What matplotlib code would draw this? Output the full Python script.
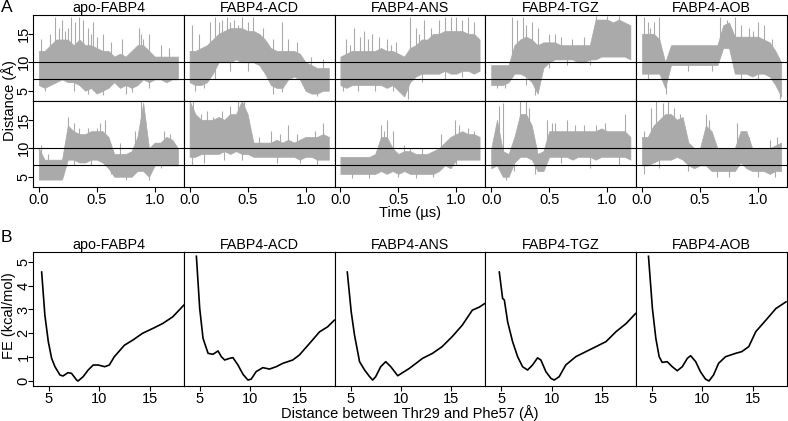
import numpy as np
import matplotlib
matplotlib.use('Agg')
import matplotlib.pyplot as plt

plt.rcParams['font.family'] = ['Liberation Sans', 'DejaVu Sans']
plt.rcParams['font.size'] = 10

SYSTEMS = ['apo-FABP4', 'FABP4-ACD', 'FABP4-ANS', 'FABP4-TGZ', 'FABP4-AOB']

# time grid of the distance traces (us)
TIME = [0.0, 0.05, 0.1, 0.15, 0.2, 0.25, 0.3, 0.35, 0.4, 0.45, 0.5, 0.55, 0.6,
        0.65, 0.7, 0.75, 0.8, 0.85, 0.9, 0.95, 1.0, 1.05, 1.1, 1.15, 1.2]

# panel A, replica 1: lower / upper envelope of the distance (A), spikes up and dips down
apo1_lo = [6, 5.5, 6, 6.5, 7, 6.5, 6.5, 6, 5, 5.5, 4.5, 5, 5.5, 6.5, 5.5, 6, 5.5, 6, 7, 6.5, 7, 7, 6.5, 7, 7]
apo1_hi = [12, 12, 13, 14, 14, 14, 13, 14, 13, 13, 12.5, 12, 12, 11, 11.5, 11, 12, 13, 13, 12, 11, 11, 11, 11, 11]
apo1_spk = [(0.02, 14), (0.1, 15), (0.14, 18), (0.17, 16), (0.2, 17.5), (0.23, 15.5), (0.25, 16), (0.28, 18),
            (0.31, 17), (0.35, 18), (0.38, 17.5), (0.42, 16), (0.45, 15), (0.47, 17), (0.5, 14.5), (0.55, 15),
            (0.62, 13.5), (0.72, 14), (0.86, 16), (0.88, 15), (0.9, 14), (0.95, 15), (1.05, 13), (1.12, 12.5)]
apo1_dip = [(0.05, 5), (0.3, 5), (0.42, 4.5), (0.55, 4.2), (0.75, 4.5), (0.8, 4.8), (0.95, 5.5)]

acd1_lo = [6.5, 6, 6, 6.5, 8, 10, 10, 10, 10.5, 10, 10, 10, 9.5, 8, 6, 5.5, 5.5, 7, 7.5, 7, 5, 4.5, 4.5, 5, 5]
acd1_hi = [12, 12, 12.5, 13, 14, 15, 15.5, 16, 16, 16, 15.5, 15.5, 15, 14, 12.5, 12, 12, 12, 12, 11.5, 10, 9.5, 9, 9, 9]
acd1_spk = [(0.02, 16.5), (0.08, 15), (0.18, 17), (0.22, 18), (0.25, 17), (0.28, 17.5), (0.32, 18), (0.35, 17),
            (0.38, 17.5), (0.42, 16.5), (0.45, 18), (0.5, 17), (0.55, 18), (0.63, 16), (0.72, 14), (0.8, 17),
            (0.85, 14), (0.93, 13.5), (1.05, 11), (1.15, 10.5)]
acd1_dip = [(0.05, 5), (0.12, 5.5), (0.22, 7), (0.35, 8.5), (0.5, 8.5), (0.72, 4.5), (0.8, 4.8), (1.1, 4)]

ans1_lo = [6, 5.5, 6, 6, 6, 6, 6, 6, 5.5, 6, 5, 4, 6.5, 7.5, 8, 8, 8, 8, 8.5, 8, 8, 8.5, 8.5, 8, 8.5]
ans1_hi = [11, 11.5, 12, 12, 12, 12, 12, 12.5, 12, 12, 11.5, 11, 12.5, 13, 14, 14, 15, 15, 15.5, 15.5, 15.5, 15.5, 15, 15, 14]
ans1_spk = [(0.05, 14), (0.08, 13), (0.12, 16), (0.17, 14.5), (0.2, 15.5), (0.24, 14), (0.27, 15), (0.33, 14.5),
            (0.4, 14), (0.44, 13), (0.48, 13.5), (0.6, 18), (0.65, 16), (0.68, 15), (0.72, 17.5), (0.78, 16),
            (0.85, 17.5), (0.9, 18), (0.95, 18), (1.0, 18), (1.05, 17.5), (1.1, 18), (1.15, 17)]
ans1_dip = [(0.02, 5), (0.15, 5), (0.3, 5), (0.45, 5), (0.58, 3.6), (0.7, 6.5), (0.9, 7), (1.05, 7.5)]

tgz1_lo = [6, 6, 6, 6.5, 8, 8, 7.5, 6.5, 4.5, 9, 10, 10.5, 10.5, 10.5, 10.5, 10, 10, 10.5, 10.5, 11, 11, 11, 11, 11, 10.5]
tgz1_hi = [9.5, 9.5, 9.5, 9.5, 13, 14, 14.5, 14, 13, 13.5, 13.5, 13.5, 13, 13, 13, 13, 13, 13, 17.5, 17.5, 17.5, 17, 17.5, 17, 16.5]
tgz1_spk = [(0.18, 18), (0.22, 17.5), (0.27, 18), (0.3, 16.5), (0.35, 17), (0.4, 16), (0.5, 15),
            (0.55, 15), (0.6, 14.5), (0.7, 14), (0.8, 14.5), (0.9, 18.2), (1.0, 18.2), (1.1, 18.2)]
tgz1_dip = [(0.05, 5.5), (0.12, 5.5), (0.3, 6), (0.38, 4.2), (0.5, 9), (0.65, 9.5), (0.85, 9.5)]

aob1_lo = [8, 8, 8, 8, 5.5, 9.5, 9.5, 9.5, 9.5, 9.5, 9.5, 9.5, 9.5, 9.5, 12.5, 12.5, 8, 8, 8, 7.5, 8, 8, 7.5, 6, 4]
aob1_hi = [15, 15, 15, 14, 10, 13, 13, 13, 13, 13, 13, 13, 13, 13, 16.5, 17, 14.5, 14.5, 14.5, 14.5, 14.5, 14, 13.5, 12, 10]
aob1_spk = [(0.02, 18), (0.05, 17), (0.07, 16), (0.1, 17), (0.15, 18), (0.67, 18), (0.73, 17.5), (0.8, 18),
            (0.85, 16.5), (0.92, 16), (0.96, 15.5), (1.0, 17), (1.05, 16.5), (1.12, 14)]
aob1_dip = [(0.05, 7), (0.21, 4.5), (0.4, 8.5), (0.6, 8.5), (0.85, 7), (1.0, 7), (1.19, 3.6)]

# panel A, replica 2
apo2_lo = [4.5, 4.5, 4.5, 4.5, 4.5, 8, 8, 7.5, 7.5, 8, 8, 7.5, 6.5, 5, 5, 5, 5, 6, 6, 5, 7, 7, 7, 7, 7]
apo2_hi = [10, 8, 8, 8, 8, 14, 13, 12.5, 12.5, 13, 13, 13, 12, 9, 9, 9, 9.5, 12, 18, 10, 11, 11, 12, 11.5, 10]
apo2_spk = [(0.02, 10.5), (0.08, 9), (0.25, 15.5), (0.3, 14.5), (0.35, 13.5), (0.42, 13.5), (0.5, 13.5),
            (0.53, 14.5), (0.57, 15), (0.7, 11), (0.83, 13), (0.88, 18.5), (1.08, 13), (1.13, 12.5)]
apo2_dip = [(0.3, 7), (0.45, 7), (0.62, 5.5), (0.75, 4.5), (0.95, 4.5), (1.05, 6.5)]

acd2_lo = [8.5, 8.5, 9, 9, 9, 9, 9.5, 9, 9.5, 9, 9, 8.5, 8.5, 8.5, 8.5, 8.5, 8.5, 8.5, 8.5, 8, 8.5, 8.5, 8, 8, 8]
acd2_hi = [18.3, 16, 15, 15, 15, 15.5, 15, 16, 16, 18.3, 16, 11, 11, 11, 11, 11.5, 11, 11.5, 11, 11.5, 12, 12, 12, 12.5, 12]
acd2_spk = [(0.03, 18.5), (0.1, 16), (0.15, 16.5), (0.2, 15.5), (0.28, 16.5), (0.35, 17.5), (0.42, 18.5),
            (0.47, 18.5), (0.6, 12), (0.7, 13), (0.78, 12.5), (0.85, 14), (0.93, 12.5), (1.08, 13), (1.15, 14.5)]
acd2_dip = [(0.02, 7), (0.12, 7.5), (0.3, 8), (0.45, 8), (0.75, 7.5), (0.95, 7.5), (1.1, 7)]

ans2_lo = [5.5, 5.5, 5.5, 5.5, 5.5, 5.5, 5.5, 6, 5.5, 6, 5.5, 6, 5.5, 5.5, 5.5, 5.5, 5.5, 6, 7, 6.5, 8, 8, 8, 8, 8]
ans2_hi = [8.5, 8.5, 8.5, 8.5, 8.5, 8.5, 9, 12, 12, 10, 9, 9.5, 9.5, 9, 9, 9, 9.5, 10, 11, 12, 12.5, 13, 12.5, 12.5, 12]
ans2_spk = [(0.35, 14), (0.38, 13), (0.4, 15), (0.45, 13), (0.55, 10.5), (0.6, 10), (0.7, 10), (0.87, 12.5),
            (0.95, 12), (0.99, 15), (1.02, 14), (1.1, 13.5), (1.15, 13)]
ans2_dip = [(0.1, 4.8), (0.25, 4.8), (0.5, 5), (0.65, 4.8), (0.8, 5), (1.0, 7)]

tgz2_lo = [6.5, 7, 5, 5, 7.5, 8.5, 8.5, 8, 6, 6, 8.5, 8.5, 8.5, 8.5, 8, 8.5, 8.5, 8.5, 8, 8.5, 8.5, 8.5, 8.5, 8.5, 8]
tgz2_hi = [10, 15, 9.5, 9, 12, 16, 16, 14, 9, 9.5, 13, 13, 13, 13, 13, 13, 13, 13, 13, 13.5, 13, 13, 13, 13, 12]
tgz2_spk = [(0.07, 17.5), (0.1, 18), (0.25, 18.3), (0.3, 18.3), (0.33, 17), (0.48, 15), (0.52, 14.5),
            (0.55, 14.5), (0.65, 15), (0.72, 14), (0.8, 14), (0.9, 14), (0.98, 14.5), (1.15, 16)]
tgz2_dip = [(0.13, 4.5), (0.2, 6), (0.38, 5.5), (0.6, 7.5), (0.85, 6.5), (1.1, 7)]

aob2_lo = [7, 7, 7.5, 8, 8, 8, 8.5, 8, 7, 6.5, 7, 7, 6, 6, 6, 6, 6, 7.5, 6.5, 6, 6, 6, 5.5, 6, 6]
aob2_hi = [12, 12, 14, 15, 16, 16, 15, 15.5, 11, 10, 10, 14, 13, 10, 10, 10, 10, 13, 13, 10, 10, 10, 10, 10.5, 11]
aob2_spk = [(0.02, 13), (0.08, 17), (0.12, 18.5), (0.18, 18), (0.22, 18.5), (0.28, 17), (0.33, 16),
            (0.55, 16), (0.58, 15), (0.82, 14.5), (0.87, 13), (0.92, 12), (1.1, 11.5), (1.16, 12)]
aob2_dip = [(0.02, 5.5), (0.15, 6.5), (0.4, 6), (0.65, 5), (0.75, 5), (1.0, 5), (1.15, 5)]

# panel B, free energy profiles: distance (A) and FE (kcal/mol)
apo_d = [4.28, 4.6, 4.94, 5.27, 5.6, 6.1, 6.4, 6.9, 7.25, 7.75, 7.9, 8.4, 8.9, 9.4, 9.9, 10.55, 11.0,
         11.5, 12.5, 13.35, 14.3, 15.3, 16.3, 17.3, 18.4]
apo_fe = [4.57, 2.76, 1.65, 0.95, 0.6, 0.25, 0.21, 0.35, 0.32, 0.04, 0.0, 0.18, 0.46, 0.67, 0.67, 0.6,
          0.67, 1.02, 1.5, 1.72, 2.0, 2.2, 2.41, 2.69, 3.18]

acd_d = [4.67, 5.0, 5.33, 5.83, 6.32, 6.82, 7.15, 7.48, 7.97, 8.3, 8.8, 9.3, 9.79, 10.12, 10.6, 11.27,
         11.93, 12.6, 13.25, 14.24, 14.9, 15.9, 16.9, 17.7, 18.37]
acd_fe = [5.23, 3.04, 1.79, 1.16, 1.12, 1.26, 1.02, 0.88, 0.95, 0.98, 0.67, 0.28, 0.04, 0.08, 0.39, 0.56,
          0.5, 0.6, 0.74, 0.88, 1.09, 1.57, 2.06, 2.27, 2.55]

ans_d = [4.68, 5.07, 5.4, 5.9, 6.4, 6.9, 7.2, 7.5, 8.0, 8.5, 9.0, 9.69, 10.85, 12.16, 13.15, 14.1,
         15.1, 16.1, 17.1, 17.8, 18.3]
ans_fe = [4.57, 2.9, 1.92, 0.81, 0.46, 0.18, 0.04, 0.18, 0.6, 0.81, 0.6, 0.22, 0.53, 0.95, 1.16, 1.44,
          1.86, 2.34, 2.97, 3.1, 3.24]

tgz_d = [4.8, 5.13, 5.3, 5.63, 6.12, 6.62, 7.11, 7.61, 8.1, 8.6, 8.93, 9.43, 9.93, 10.25, 10.75, 11.4,
         12.4, 13.4, 14.4, 15.4, 16.4, 17.4, 18.34]
tgz_fe = [4.57, 3.46, 3.4, 2.48, 1.65, 1.02, 0.6, 0.46, 0.67, 0.97, 0.88, 0.39, 0.11, 0.04, 0.18, 0.67,
          1.02, 1.23, 1.44, 1.65, 2.07, 2.41, 2.83]

aob_d = [4.64, 5.03, 5.37, 5.7, 6.0, 6.5, 7.0, 7.5, 8.0, 8.5, 8.83, 9.33, 9.8, 10.3, 10.65, 11.1, 11.6,
         12.3, 13.3, 13.9, 14.6, 15.3, 16.3, 17.3, 18.3]
aob_fe = [5.23, 3.04, 1.79, 1.02, 0.78, 0.81, 0.6, 0.43, 0.6, 0.95, 1.06, 0.81, 0.39, 0.08, 0.0, 0.25,
          0.74, 1.02, 1.16, 1.23, 1.44, 2.07, 2.55, 3.04, 3.32]

REP1 = [(apo1_lo, apo1_hi, apo1_spk, apo1_dip), (acd1_lo, acd1_hi, acd1_spk, acd1_dip),
        (ans1_lo, ans1_hi, ans1_spk, ans1_dip), (tgz1_lo, tgz1_hi, tgz1_spk, tgz1_dip),
        (aob1_lo, aob1_hi, aob1_spk, aob1_dip)]
REP2 = [(apo2_lo, apo2_hi, apo2_spk, apo2_dip), (acd2_lo, acd2_hi, acd2_spk, acd2_dip),
        (ans2_lo, ans2_hi, ans2_spk, ans2_dip), (tgz2_lo, tgz2_hi, tgz2_spk, tgz2_dip),
        (aob2_lo, aob2_hi, aob2_spk, aob2_dip)]
FE = [(apo_d, apo_fe), (acd_d, acd_fe), (ans_d, ans_fe), (tgz_d, tgz_fe), (aob_d, aob_fe)]

GREY = '#aaaaaa'
W, H = 788, 421
X0, PW = 33, 150.8


def px_axes(fig, x, y, w, h):
    return fig.add_axes([x / W, 1 - (y + h) / H, w / W, h / H])


def style(ax):
    for s in ax.spines.values():
        s.set_linewidth(0.8)
    ax.tick_params(length=3.5, width=0.8, labelsize=10.5)
    ax.tick_params(axis='x', pad=0.8)
    ax.tick_params(axis='y', pad=0.5)


def rotate_ylabels(ax, labels):
    ax.set_yticklabels(labels, rotation=90, rotation_mode='anchor', ha='center', va='baseline')


def draw_trace(ax, lo, hi, spk, dip):
    t = np.array(TIME)
    ax.fill_between(t, lo, hi, color=GREY, lw=0.5, edgecolor=GREY)
    st = np.array([s[0] for s in spk])
    sv = np.array([s[1] for s in spk])
    ax.vlines(st, np.interp(st, t, hi) - 1, sv, color=GREY, lw=0.8)
    dt = np.array([s[0] for s in dip])
    dv = np.array([s[1] for s in dip])
    ax.vlines(dt, dv, np.interp(dt, t, lo) + 1, color=GREY, lw=0.8)


def main():
    fig = plt.figure(figsize=(W / 100, H / 100), dpi=100)

    for k in range(5):
        for row, data in enumerate([REP1, REP2]):
            ax = px_axes(fig, X0 + k * PW, 15 + row * 86, PW, 86)
            style(ax)
            draw_trace(ax, *data[k])
            ax.axhline(10, color='black', lw=0.8)
            ax.axhline(7, color='black', lw=0.8)
            ax.set_xlim(-0.05, 1.25)
            ax.set_ylim(3.2, 18.3)
            ax.set_xticks([0, 0.5, 1.0])
            ax.set_yticks([5, 10, 15])
            if row == 0:
                ax.set_xticklabels([])
                ax.tick_params(axis='x', length=0)
                ax.set_title(SYSTEMS[k], pad=1, fontsize=10.3)
            else:
                ax.set_xticklabels(['0.0', '0.5', '1.0'])
            if k == 0:
                rotate_ylabels(ax, ['5', '10', '15'])
            else:
                ax.tick_params(axis='y', length=0, labelleft=False)

        axb = px_axes(fig, X0 + k * PW, 252, PW, 134)
        style(axb)
        d, fe = FE[k]
        axb.plot(d, fe, color='black', lw=1.2)
        axb.set_xlim(3.42, 18.4)
        axb.set_ylim(-0.21, 5.41)
        axb.set_xticks([5, 10, 15])
        axb.set_yticks([0, 1, 2, 3, 4, 5])
        axb.set_title(SYSTEMS[k], pad=1, fontsize=10.3)
        if k == 0:
            rotate_ylabels(axb, [str(v) for v in range(6)])
        else:
            axb.tick_params(axis='y', length=0, labelleft=False)

    fig.text(410 / W, 1 - 213 / H, 'Time (µs)', ha='center', va='center', fontsize=10.5)
    fig.text(410 / W, 1 - 413 / H, 'Distance between Thr29 and Phe57 (Å)', ha='center', va='center',
             fontsize=10.5)
    fig.text(9 / W, 1 - 101 / H, 'Distance (Å)', rotation=90, va='center', ha='center', fontsize=10.5)
    fig.text(9 / W, 1 - 316 / H, 'FE (kcal/mol)', rotation=90, va='center', ha='center', fontsize=10.5)
    fig.text(1 / W, 1 - 8 / H, 'A', fontsize=12.5, va='center')
    fig.text(1 / W, 1 - 238 / H, 'B', fontsize=12.5, va='center')

    fig.savefig('out.png', dpi=100)


if __name__ == '__main__':
    main()
